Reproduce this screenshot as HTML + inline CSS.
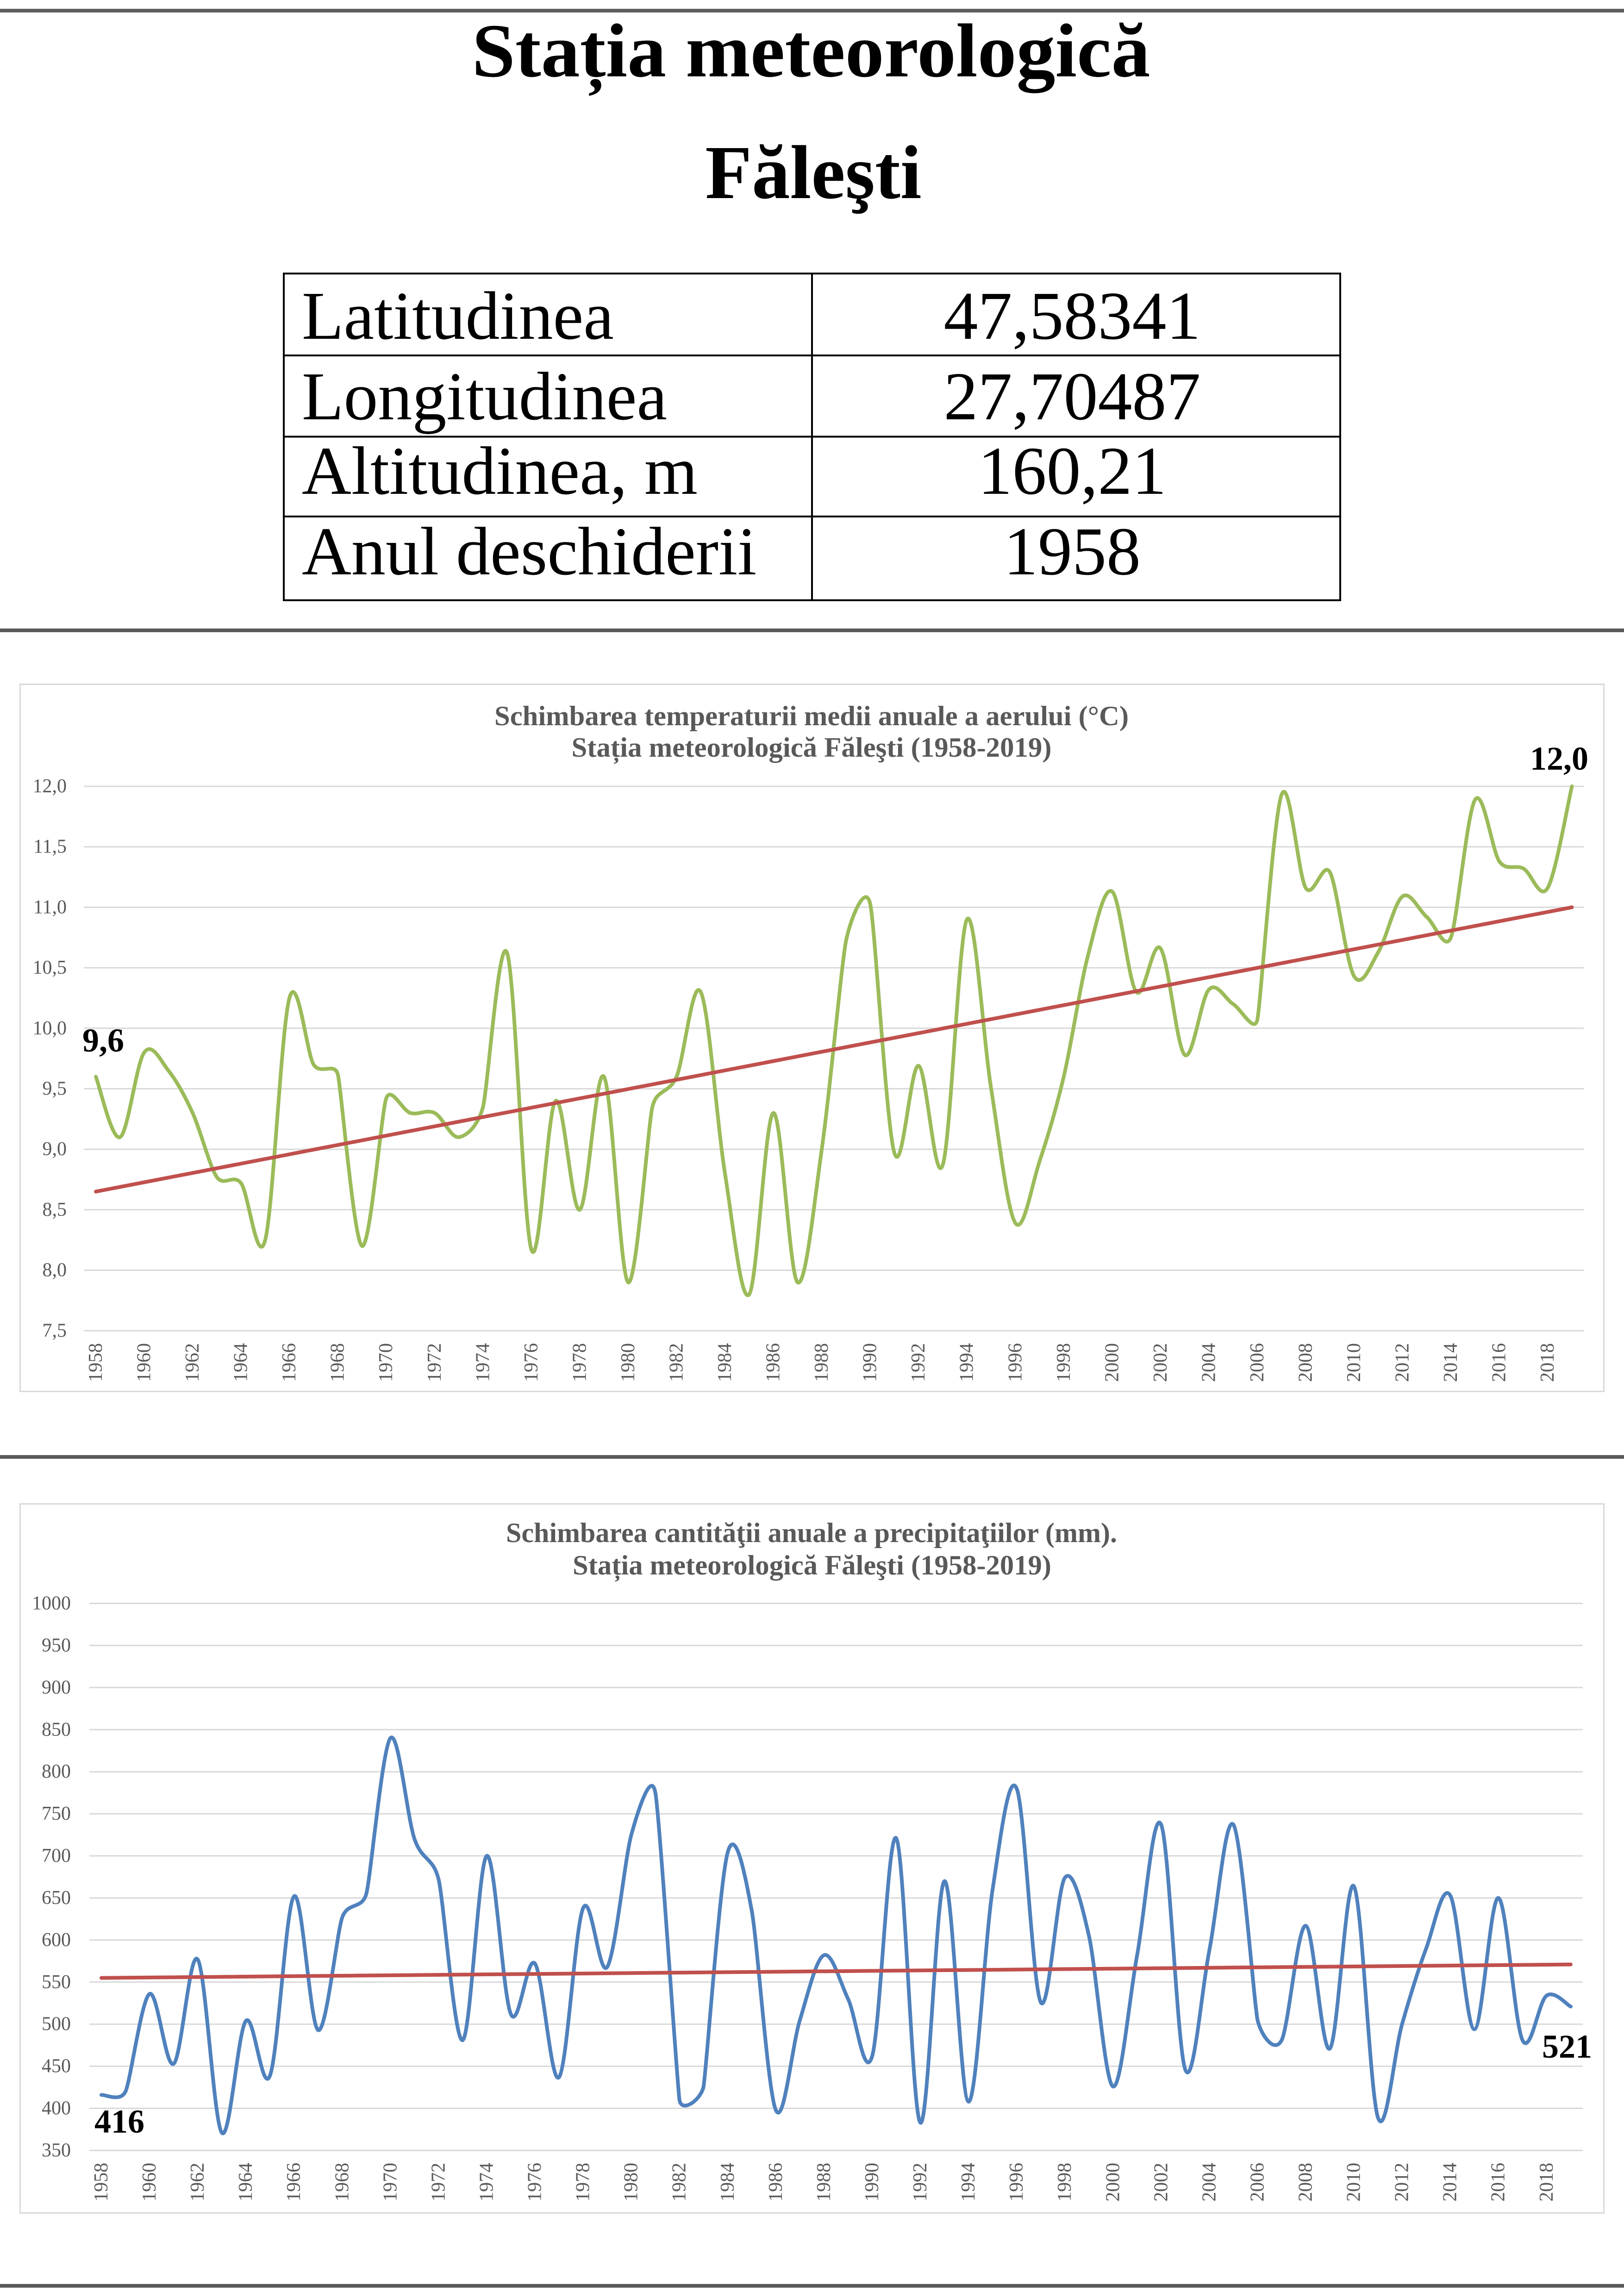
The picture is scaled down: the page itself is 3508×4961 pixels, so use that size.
<!DOCTYPE html>
<html><head><meta charset="utf-8"><title>Stația meteorologică Fălești</title>
<style>
html,body{margin:0;padding:0;background:#fff;width:3508px;height:4961px;overflow:hidden;}
svg{display:block;}
text{font-family:"Liberation Serif","DejaVu Serif",serif;}
.ax{font-size:42px;fill:#595959;}
.tt{font-size:60px;font-weight:bold;fill:#595959;}
.dl{font-size:72px;font-weight:bold;fill:#000;}
.tb{font-size:148px;fill:#000;}
.gr line{stroke:#d9d9d9;stroke-width:3;}
</style></head><body>
<svg width="3508" height="4961" viewBox="0 0 3508 4961" xmlns="http://www.w3.org/2000/svg">
<rect width="3508" height="4961" fill="#fff"/>
<rect x="0" y="19" width="3508" height="8" fill="#5e5e5e"/>
<rect x="0" y="1358" width="3508" height="8" fill="#5a5a5a"/>
<rect x="0" y="3144" width="3508" height="8" fill="#5a5a5a"/>
<rect x="0" y="4935" width="3508" height="8" fill="#5a5a5a"/>

<!-- Header -->
<text x="1752" y="165" text-anchor="middle" font-size="165" font-weight="bold" fill="#000" textLength="1465" lengthAdjust="spacingAndGlyphs">Stația meteorologică</text>
<text x="1757" y="428" text-anchor="middle" font-size="165" font-weight="bold" fill="#000">Făleşti</text>

<g stroke="#000" stroke-width="4" fill="none">
<rect x="613" y="591" width="2282" height="706"/>
<line x1="613" y1="768" x2="2895" y2="768"/>
<line x1="613" y1="943.5" x2="2895" y2="943.5"/>
<line x1="613" y1="1116" x2="2895" y2="1116"/>
<line x1="1754" y1="591" x2="1754" y2="1297"/>
</g>
<text class="tb" x="652" y="732">Latitudinea</text>
<text class="tb" x="652" y="906">Longitudinea</text>
<text class="tb" x="652" y="1067">Altitudinea, m</text>
<text class="tb" x="652" y="1241">Anul deschiderii</text>
<text class="tb" x="2316" y="732" text-anchor="middle">47,58341</text>
<text class="tb" x="2316" y="906" text-anchor="middle">27,70487</text>
<text class="tb" x="2316" y="1067" text-anchor="middle">160,21</text>
<text class="tb" x="2316" y="1241" text-anchor="middle">1958</text>

<!-- Chart 1 -->
<rect x="43.5" y="1478.5" width="3421" height="1528" fill="none" stroke="#d9d9d9" stroke-width="3"/>
<text class="tt" x="1753" y="1567" text-anchor="middle" textLength="1370" lengthAdjust="spacingAndGlyphs">Schimbarea temperaturii medii anuale a aerului (°C)</text>
<text class="tt" x="1753" y="1635" text-anchor="middle" textLength="1037" lengthAdjust="spacingAndGlyphs">Stația meteorologică Făleşti (1958-2019)</text>
<g class="gr">
<line x1="181" x2="3421" y1="1699" y2="1699"/>
<line x1="181" x2="3421" y1="1829.7" y2="1829.7"/>
<line x1="181" x2="3421" y1="1960.4" y2="1960.4"/>
<line x1="181" x2="3421" y1="2091.1" y2="2091.1"/>
<line x1="181" x2="3421" y1="2221.8" y2="2221.8"/>
<line x1="181" x2="3421" y1="2352.5" y2="2352.5"/>
<line x1="181" x2="3421" y1="2483.2" y2="2483.2"/>
<line x1="181" x2="3421" y1="2613.9" y2="2613.9"/>
<line x1="181" x2="3421" y1="2744.6" y2="2744.6"/>
<line x1="181" x2="3421" y1="2875.3" y2="2875.3"/>
</g>
<g class="ax" text-anchor="end" dominant-baseline="central">
<text x="144" y="1699">12,0</text>
<text x="144" y="1829.7">11,5</text>
<text x="144" y="1960.4">11,0</text>
<text x="144" y="2091.1">10,5</text>
<text x="144" y="2221.8">10,0</text>
<text x="144" y="2352.5">9,5</text>
<text x="144" y="2483.2">9,0</text>
<text x="144" y="2613.9">8,5</text>
<text x="144" y="2744.6">8,0</text>
<text x="144" y="2875.3">7,5</text>
</g>
<g class="ax" text-anchor="end" dominant-baseline="central">
<text x="207" y="2902" transform="rotate(-90 207 2902)">1958</text>
<text x="311.5" y="2902" transform="rotate(-90 311.5 2902)">1960</text>
<text x="416.1" y="2902" transform="rotate(-90 416.1 2902)">1962</text>
<text x="520.6" y="2902" transform="rotate(-90 520.6 2902)">1964</text>
<text x="625.2" y="2902" transform="rotate(-90 625.2 2902)">1966</text>
<text x="729.7" y="2902" transform="rotate(-90 729.7 2902)">1968</text>
<text x="834.2" y="2902" transform="rotate(-90 834.2 2902)">1970</text>
<text x="938.8" y="2902" transform="rotate(-90 938.8 2902)">1972</text>
<text x="1043.3" y="2902" transform="rotate(-90 1043.3 2902)">1974</text>
<text x="1147.9" y="2902" transform="rotate(-90 1147.9 2902)">1976</text>
<text x="1252.4" y="2902" transform="rotate(-90 1252.4 2902)">1978</text>
<text x="1357" y="2902" transform="rotate(-90 1357 2902)">1980</text>
<text x="1461.5" y="2902" transform="rotate(-90 1461.5 2902)">1982</text>
<text x="1566" y="2902" transform="rotate(-90 1566 2902)">1984</text>
<text x="1670.6" y="2902" transform="rotate(-90 1670.6 2902)">1986</text>
<text x="1775.1" y="2902" transform="rotate(-90 1775.1 2902)">1988</text>
<text x="1879.6" y="2902" transform="rotate(-90 1879.6 2902)">1990</text>
<text x="1984.2" y="2902" transform="rotate(-90 1984.2 2902)">1992</text>
<text x="2088.7" y="2902" transform="rotate(-90 2088.7 2902)">1994</text>
<text x="2193.3" y="2902" transform="rotate(-90 2193.3 2902)">1996</text>
<text x="2297.8" y="2902" transform="rotate(-90 2297.8 2902)">1998</text>
<text x="2402.3" y="2902" transform="rotate(-90 2402.3 2902)">2000</text>
<text x="2506.9" y="2902" transform="rotate(-90 2506.9 2902)">2002</text>
<text x="2611.4" y="2902" transform="rotate(-90 2611.4 2902)">2004</text>
<text x="2716" y="2902" transform="rotate(-90 2716 2902)">2006</text>
<text x="2820.5" y="2902" transform="rotate(-90 2820.5 2902)">2008</text>
<text x="2925" y="2902" transform="rotate(-90 2925 2902)">2010</text>
<text x="3029.6" y="2902" transform="rotate(-90 3029.6 2902)">2012</text>
<text x="3134.1" y="2902" transform="rotate(-90 3134.1 2902)">2014</text>
<text x="3238.7" y="2902" transform="rotate(-90 3238.7 2902)">2016</text>
<text x="3343.2" y="2902" transform="rotate(-90 3343.2 2902)">2018</text>
</g>
<g transform="translate(207,4835.8) scale(52.27,-261.4)">
<polyline class="s" fill="none" stroke="#9bbb59" stroke-width="8" stroke-linejoin="round" stroke-linecap="round" vector-effect="non-scaling-stroke" points="0,9.6 1,9.1 2,9.8 3,9.65 4,9.3 5,8.77 6,8.72 7,8.25 8,10.25 9,9.7 10,9.62 11,8.2 12,9.42 13,9.3 14,9.3 15,9.1 16,9.35 17,10.62 18,8.17 19,9.4 20,8.5 21,9.6 22,7.9 23,9.35 24,9.6 25,10.3 26,8.8 27,7.8 28,9.3 29,7.9 30,9.0 31,10.72 32,11.03 33,8.97 34,9.69 35,8.87 36,10.9 37,9.5 38,8.39 39,8.9 40,9.6 41,10.6 42,11.13 43,10.3 44,10.66 45,9.78 46,10.32 47,10.2 48,10.07 49,11.93 50,11.16 51,11.29 52,10.43 53,10.63 54,11.09 55,10.92 56,10.75 57,11.89 58,11.38 59,11.32 60,11.16 61,12.0"/>
<line x1="0" y1="8.65" x2="61" y2="11.0" stroke="#c0504d" stroke-width="8" stroke-linecap="round" vector-effect="non-scaling-stroke"/>
</g>
<text class="dl" x="178" y="2272">9,6</text>
<text class="dl" x="3305" y="1663">12,0</text>

<!-- Chart 2 -->
<rect x="43.5" y="3249.5" width="3421" height="1532" fill="none" stroke="#d9d9d9" stroke-width="3"/>
<text class="tt" x="1753" y="3332" text-anchor="middle" textLength="1320" lengthAdjust="spacingAndGlyphs">Schimbarea cantităţii anuale a precipitaţiilor (mm).</text>
<text class="tt" x="1754" y="3402" text-anchor="middle" textLength="1034" lengthAdjust="spacingAndGlyphs">Stația meteorologică Făleşti (1958-2019)</text>
<g class="gr">
<line x1="193" x2="3419" y1="3464.5" y2="3464.5"/>
<line x1="193" x2="3419" y1="3555.4" y2="3555.4"/>
<line x1="193" x2="3419" y1="3646.3" y2="3646.3"/>
<line x1="193" x2="3419" y1="3737.3" y2="3737.3"/>
<line x1="193" x2="3419" y1="3828.2" y2="3828.2"/>
<line x1="193" x2="3419" y1="3919.1" y2="3919.1"/>
<line x1="193" x2="3419" y1="4010" y2="4010"/>
<line x1="193" x2="3419" y1="4100.9" y2="4100.9"/>
<line x1="193" x2="3419" y1="4191.9" y2="4191.9"/>
<line x1="193" x2="3419" y1="4282.8" y2="4282.8"/>
<line x1="193" x2="3419" y1="4373.7" y2="4373.7"/>
<line x1="193" x2="3419" y1="4464.6" y2="4464.6"/>
<line x1="193" x2="3419" y1="4555.5" y2="4555.5"/>
<line x1="193" x2="3419" y1="4646.5" y2="4646.5"/>
</g>
<g class="ax" text-anchor="end" dominant-baseline="central">
<text x="153" y="3464.5">1000</text>
<text x="153" y="3555.4">950</text>
<text x="153" y="3646.3">900</text>
<text x="153" y="3737.3">850</text>
<text x="153" y="3828.2">800</text>
<text x="153" y="3919.1">750</text>
<text x="153" y="4010">700</text>
<text x="153" y="4100.9">650</text>
<text x="153" y="4191.9">600</text>
<text x="153" y="4282.8">550</text>
<text x="153" y="4373.7">500</text>
<text x="153" y="4464.6">450</text>
<text x="153" y="4555.5">400</text>
<text x="153" y="4646.5">350</text>
</g>
<g class="ax" text-anchor="end" dominant-baseline="central">
<text x="219" y="4673" transform="rotate(-90 219 4673)">1958</text>
<text x="323.1" y="4673" transform="rotate(-90 323.1 4673)">1960</text>
<text x="427.1" y="4673" transform="rotate(-90 427.1 4673)">1962</text>
<text x="531.2" y="4673" transform="rotate(-90 531.2 4673)">1964</text>
<text x="635.2" y="4673" transform="rotate(-90 635.2 4673)">1966</text>
<text x="739.3" y="4673" transform="rotate(-90 739.3 4673)">1968</text>
<text x="843.4" y="4673" transform="rotate(-90 843.4 4673)">1970</text>
<text x="947.4" y="4673" transform="rotate(-90 947.4 4673)">1972</text>
<text x="1051.5" y="4673" transform="rotate(-90 1051.5 4673)">1974</text>
<text x="1155.5" y="4673" transform="rotate(-90 1155.5 4673)">1976</text>
<text x="1259.6" y="4673" transform="rotate(-90 1259.6 4673)">1978</text>
<text x="1363.7" y="4673" transform="rotate(-90 1363.7 4673)">1980</text>
<text x="1467.7" y="4673" transform="rotate(-90 1467.7 4673)">1982</text>
<text x="1571.8" y="4673" transform="rotate(-90 1571.8 4673)">1984</text>
<text x="1675.8" y="4673" transform="rotate(-90 1675.8 4673)">1986</text>
<text x="1779.9" y="4673" transform="rotate(-90 1779.9 4673)">1988</text>
<text x="1884" y="4673" transform="rotate(-90 1884 4673)">1990</text>
<text x="1988" y="4673" transform="rotate(-90 1988 4673)">1992</text>
<text x="2092.1" y="4673" transform="rotate(-90 2092.1 4673)">1994</text>
<text x="2196.1" y="4673" transform="rotate(-90 2196.1 4673)">1996</text>
<text x="2300.2" y="4673" transform="rotate(-90 2300.2 4673)">1998</text>
<text x="2404.3" y="4673" transform="rotate(-90 2404.3 4673)">2000</text>
<text x="2508.3" y="4673" transform="rotate(-90 2508.3 4673)">2002</text>
<text x="2612.4" y="4673" transform="rotate(-90 2612.4 4673)">2004</text>
<text x="2716.4" y="4673" transform="rotate(-90 2716.4 4673)">2006</text>
<text x="2820.5" y="4673" transform="rotate(-90 2820.5 4673)">2008</text>
<text x="2924.6" y="4673" transform="rotate(-90 2924.6 4673)">2010</text>
<text x="3028.6" y="4673" transform="rotate(-90 3028.6 4673)">2012</text>
<text x="3132.7" y="4673" transform="rotate(-90 3132.7 4673)">2014</text>
<text x="3236.7" y="4673" transform="rotate(-90 3236.7 4673)">2016</text>
<text x="3340.8" y="4673" transform="rotate(-90 3340.8 4673)">2018</text>
</g>
<g transform="translate(219,5283) scale(52.03,-1.8185)">
<polyline class="s" fill="none" stroke="#4f81bd" stroke-width="8" stroke-linejoin="round" stroke-linecap="round" vector-effect="non-scaling-stroke" points="0,416 1,420 2,536 3,453 4,577 5,371 6,504 7,439 8,652 9,493 10,627 11,655 12,840 13,720 14,672 15,481 16,700 17,512 18,572 19,437 20,638 21,568 22,725 23,775 24,410 25,426 26,704 27,635 28,398 29,505 30,582 31,530 32,462 33,721 34,383 35,670 36,408 37,660 38,780 39,526 40,674 41,605 42,426 43,582 44,737 45,446 46,588 47,737 48,505 49,481 50,617 51,471 52,664 53,389 54,500 55,590 56,653 57,494 58,650 59,481 60,534 61,521"/>
<line x1="0" y1="555" x2="61" y2="571" stroke="#c0504d" stroke-width="8" stroke-linecap="round" vector-effect="non-scaling-stroke"/>
</g>
<text class="dl" x="204" y="4608">416</text>
<text class="dl" x="3331" y="4446">521</text>
</svg>
<script>
(function(){
  var maps = [[207, 52.27, 4835.8, -261.4], [219, 52.03, 5283, -1.8185]];
  var pls = Array.prototype.slice.call(document.querySelectorAll('polyline.s'));
  pls.forEach(function(pl, k){
    var m = maps[k];
    var raw = pl.getAttribute('points').trim().split(/\s+/);
    var P = raw.map(function(p){ var a = p.split(','); return [m[0] + parseFloat(a[0]) * m[1], m[2] + parseFloat(a[1]) * m[3]]; });
    var n = P.length;
    function dist(a, b){ var dx = a[0]-b[0], dy = a[1]-b[1]; return Math.sqrt(dx*dx + dy*dy); }
    var T = [];
    for (var i = 0; i < n; i++) {
      if (i === 0) { T.push([(P[1][0]-P[0][0])/6, (P[1][1]-P[0][1])/6]); continue; }
      if (i === n-1) { T.push([(P[n-1][0]-P[n-2][0])/6, (P[n-1][1]-P[n-2][1])/6]); continue; }
      var p0 = P[i-1], p1 = P[i], p2 = P[i+1];
      var d01 = dist(p0, p1), d12 = dist(p1, p2), d02 = dist(p0, p2);
      var f = 1/6;
      if (d02 > 0) { var lim = Math.min(d01, d12) / (2 * d02); if (lim < f) f = lim; }
      T.push([f * (p2[0]-p0[0]), f * (p2[1]-p0[1])]);
    }
    var d = 'M' + P[0][0].toFixed(2) + ',' + P[0][1].toFixed(2);
    for (var j = 0; j < n - 1; j++) {
      var a = P[j], b = P[j+1];
      d += ' C' + (a[0]+T[j][0]).toFixed(2) + ',' + (a[1]+T[j][1]).toFixed(2) + ' ' +
           (b[0]-T[j+1][0]).toFixed(2) + ',' + (b[1]-T[j+1][1]).toFixed(2) + ' ' +
           b[0].toFixed(2) + ',' + b[1].toFixed(2);
    }
    var path = document.createElementNS('http://www.w3.org/2000/svg', 'path');
    path.setAttribute('d', d);
    path.setAttribute('fill', 'none');
    path.setAttribute('stroke', pl.getAttribute('stroke'));
    path.setAttribute('stroke-width', pl.getAttribute('stroke-width'));
    path.setAttribute('stroke-linejoin', 'round');
    path.setAttribute('stroke-linecap', 'round');
    var g = pl.parentNode;
    g.parentNode.insertBefore(path, g);
    g.removeChild(pl);
  });
})();
</script>
</body></html>
